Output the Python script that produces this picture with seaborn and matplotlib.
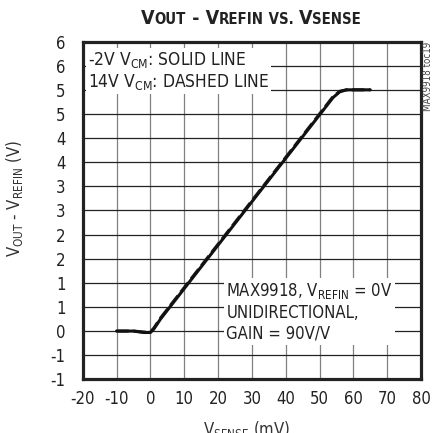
import matplotlib

matplotlib.use("Agg")

import matplotlib.pyplot as plt
import pandas as pd
import seaborn as sns

# V_SENSE sweep (mV) and output (V) for both common-mode voltages
vsense_mv = [-10, -5, -2, 0, 1, 3, 10, 20, 30, 40, 50, 54, 56, 58, 60, 65]
vout_solid = [0.0, 0.0, -0.03, -0.03, 0.04, 0.25, 0.88, 1.78, 2.68, 3.58, 4.48, 4.84, 4.96, 5.0, 5.0, 5.0]
vout_dashed = [0.0, 0.0, -0.02, -0.02, 0.06, 0.27, 0.90, 1.80, 2.70, 3.60, 4.50, 4.86, 4.97, 5.0, 5.0, 5.0]

x_ticks = [-20, -10, 0, 10, 20, 30, 40, 50, 60, 70, 80]
y_ticks = [-1, -0.5, 0, 0.5, 1, 1.5, 2, 2.5, 3, 3.5, 4, 4.5, 5, 5.5, 6]
y_tick_labels = ["-1", "-1", "0", "1", "1", "2", "2", "3", "3", "4", "4", "5", "5", "6", "6"]

sns.set_theme(style="white")
plt.rcParams["font.family"] = ["DejaVu Sans"]
plt.rcParams["font.stretch"] = "condensed"
plt.rcParams["mathtext.default"] = "regular"

fig = plt.figure(figsize=(4.34, 4.33), dpi=100)
ax = fig.add_axes([0.1906, 0.124, 0.7795, 0.780])

df = pd.DataFrame({"vsense": vsense_mv, "solid": vout_solid, "dashed": vout_dashed})
sns.lineplot(data=df, x="vsense", y="dashed", color="#222222", lw=2.2,
             linestyle=(0, (4, 1.5)), ax=ax, zorder=3)
sns.lineplot(data=df, x="vsense", y="solid", color="#111111", lw=2.2, ax=ax, zorder=4)

ax.set_xlim(-20, 80)
ax.set_ylim(-1, 6)
ax.set_xticks(x_ticks)
ax.set_xticklabels([str(v) for v in x_ticks])
ax.set_yticks(y_ticks)
ax.set_yticklabels(y_tick_labels)
ax.tick_params(axis="both", length=0, labelsize=12, colors="#222222")
ax.tick_params(axis="y", pad=12.5)
ax.tick_params(axis="x", pad=7.5)

ax.xaxis.grid(True, color="#808080", lw=0.9)
ax.yaxis.grid(True, color="#222222", lw=0.9)
ax.set_axisbelow(True)
for sp in ax.spines.values():
    sp.set_color("#222222")
    sp.set_linewidth(2.3)

ax.set_ylabel(r"$V_{OUT}$ - $V_{REFIN}$ (V)", fontsize=12, color="#333333")
ax.yaxis.set_label_coords(-0.17, 0.534)
ax.set_xlabel(r"$V_{SENSE}$ (mV)", fontsize=12, color="#333333")
ax.xaxis.set_label_coords(0.483, -0.118)

box = dict(facecolor="white", edgecolor="none", pad=1.5)
ax.text(0.015, 0.975, "-2V $V_{CM}$: SOLID LINE\n14V $V_{CM}$: DASHED LINE",
        transform=ax.transAxes, ha="left", va="top", fontsize=12.5,
        color="#222222", linespacing=1.15, bbox=box, zorder=5)
ax.text(0.425, 0.29, "MAX9918, $V_{REFIN}$ = 0V\nUNIDIRECTIONAL,\nGAIN = 90V/V",
        transform=ax.transAxes, ha="left", va="top", fontsize=12,
        color="#222222", linespacing=1.2, bbox=box, zorder=5)

fig.text(0.986, 0.903, "MAX9918 toc19", rotation=90, ha="center", va="top",
         fontsize=7, color="#444444")

# title in small caps: big V, smaller caps for the rest
parts = [("V", 14), ("OUT", 10.7), (" - V", 14), ("REFIN", 10.7),
         (" VS. ", 10.7), ("V", 14), ("SENSE", 10.7)]
renderer = fig.canvas.get_renderer()
texts = [fig.text(0, 0.945, s, fontsize=size, fontweight="bold",
                  va="baseline", ha="left", color="#222222") for s, size in parts]
widths = [t.get_window_extent(renderer).width for t in texts]
fig_w = fig.get_figwidth() * fig.dpi
x_px = 251 - sum(widths) / 2
for t, w in zip(texts, widths):
    t.set_x(x_px / fig_w)
    x_px += w

fig.savefig("out.png", dpi=100)
